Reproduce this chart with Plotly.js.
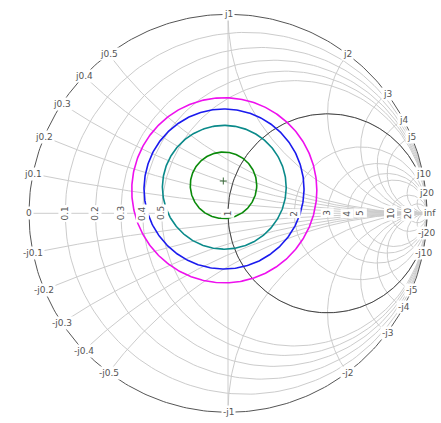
<!DOCTYPE html>
<html><head><meta charset="utf-8">
<script src="https://cdn.plot.ly/plotly-3.0.1.min.js"></script>
<style>html,body{margin:0;padding:0;background:#fff}</style>
</head><body>
<div id="chart" style="width:441px;height:423px"></div>
<script>
// ---- data ----
var realTicks = [0.1, 0.2, 0.3, 0.4, 0.5, 1, 2, 3, 4, 5, 10, 20];
var realTickLabels = ['0.1','0.2','0.3','0.4','0.5','1','2','3','4','5','10','20'];
var imagTicks = [0.1, 0.2, 0.3, 0.4, 0.5, 1, 2, 3, 4, 5, 10, 20];
var imagTickLabels = ['0.1','0.2','0.3','0.4','0.5','1','2','3','4','5','10','20'];

// circles (in reflection-coefficient plane): centre re, centre im, radius
var circleNames = ['circle 1', 'circle 2', 'circle 3', 'circle 4'];
var circleCenterRe = [-0.0226, -0.0186, -0.0200, -0.0186];
var circleCenterIm = [0.1407, 0.1307, 0.1221, 0.1156];
var circleRadius = [0.167, 0.311, 0.402, 0.465];

// optimum point (reflection-coefficient plane)
var optRe = [-0.0236];
var optIm = [0.1623];

// constant resistance arc (normalised r, reactance range)
var arcResistance = [1];
var arcReactanceRange = [-8, 8];

// unit-magnitude impedance locus |z| = 1 (reactance end points at r = 0)
var unitMagReactance = [1, -1];

// ---- styles ----
var circleColors = ['#0a8a0a', '#0a8a8a', '#1a1aee', '#ee10ee'];
var gridColor = '#cccccc';
var edgeColor = '#555555';
var labelColor = '#555555';

function gamma(r, x) {
  var d = (r + 1) * (r + 1) + x * x;
  return [(r * r - 1 + x * x) / d, (2 * x) / d];
}

var traces = [];
// resistance circles
var gx = [], gy = [];
realTicks.forEach(function (r) {
  var c = r / (1 + r), rad = 1 / (1 + r);
  for (var i = 0; i <= 240; i++) {
    var t = 2 * Math.PI * i / 240;
    gx.push(c + rad * Math.cos(t)); gy.push(rad * Math.sin(t));
  }
  gx.push(null); gy.push(null);
});
// reactance arcs
[1, -1].forEach(function (sgn) {
  imagTicks.forEach(function (xv) {
    var cy = 1 / xv, rad = 1 / xv;
    var b = gamma(0, xv);
    var tb = Math.atan2(b[1] - cy, b[0] - 1);
    if (tb < Math.PI / 2) tb += 2 * Math.PI;
    var te = 1.5 * Math.PI;
    for (var i = 0; i <= 200; i++) {
      var t = tb + (te - tb) * i / 200;
      gx.push(1 + rad * Math.cos(t)); gy.push(sgn * (cy + rad * Math.sin(t)));
    }
    gx.push(null); gy.push(null);
  });
});
// real axis
var g0 = gamma(0, 0);
gx.push(g0[0], 1, null); gy.push(0, 0, null);
// |z| = 1 locus
var u1 = gamma(0, unitMagReactance[0]), u2 = gamma(0, unitMagReactance[1]);
gx.push(u1[0], u2[0], null); gy.push(u1[1], u2[1], null);
traces.push({x: gx, y: gy, mode: 'lines', line: {color: gridColor, width: 1}, hoverinfo: 'skip'});

// outer boundary
var bx = [], by = [];
for (var i = 0; i <= 360; i++) {
  var t = 2 * Math.PI * i / 360;
  bx.push(Math.cos(t)); by.push(Math.sin(t));
}
traces.push({x: bx, y: by, mode: 'lines', line: {color: edgeColor, width: 1}, hoverinfo: 'skip'});

// constant resistance arc
var ax = [], ay = [];
for (var i = 0; i <= 400; i++) {
  var xv = arcReactanceRange[0] + (arcReactanceRange[1] - arcReactanceRange[0]) * i / 400;
  var g = gamma(arcResistance[0], xv);
  ax.push(g[0]); ay.push(g[1]);
}
traces.push({x: ax, y: ay, mode: 'lines', line: {color: '#444444', width: 1}, hoverinfo: 'skip'});

// circles
circleRadius.forEach(function (rad, k) {
  var cx = [], cy = [];
  for (var i = 0; i <= 360; i++) {
    var t = 2 * Math.PI * i / 360;
    cx.push(circleCenterRe[k] + rad * Math.cos(t));
    cy.push(circleCenterIm[k] + rad * Math.sin(t));
  }
  traces.push({x: cx, y: cy, name: circleNames[k], mode: 'lines', line: {color: circleColors[k], width: 1.6}});
});

// optimum point
traces.push({x: optRe, y: optIm, mode: 'markers',
  marker: {symbol: 'cross-thin', size: 5, line: {color: '#3a6a3a', width: 1}}});

// labels
var ann = [];
var font = {family: 'DejaVu Sans', size: 9, color: labelColor};
function lab(text, x, y, angle, xs) {
  ann.push({x: x, y: y, xref: 'x', yref: 'y', text: text, showarrow: false,
    xanchor: 'center', yanchor: 'middle', textangle: angle || 0, xshift: xs || 0,
    bgcolor: '#ffffff', borderpad: 1, font: font});
}
imagTicks.forEach(function (xv, k) {
  var g = gamma(0, xv);
  lab('j' + imagTickLabels[k], g[0], g[1]);
  lab('-j' + imagTickLabels[k], g[0], -g[1]);
});
realTicks.forEach(function (r, k) {
  var g = gamma(r, 0);
  lab(realTickLabels[k], g[0], 0, -90);
});
lab('0', -1, 0);
lab('inf', 1, 0, 0, 3);

var S = 199, CX = 228, CY = 213.3;
Plotly.newPlot('chart', traces, {
  width: 441, height: 423, showlegend: false,
  margin: {l: 0, r: 0, t: 0, b: 0},
  paper_bgcolor: '#ffffff', plot_bgcolor: '#ffffff',
  xaxis: {range: [-CX / S, (441 - CX) / S], visible: false, fixedrange: true},
  yaxis: {range: [-(423 - CY) / S, CY / S], visible: false, fixedrange: true},
  annotations: ann
}, {displayModeBar: false, staticPlot: true});
</script></body></html>
